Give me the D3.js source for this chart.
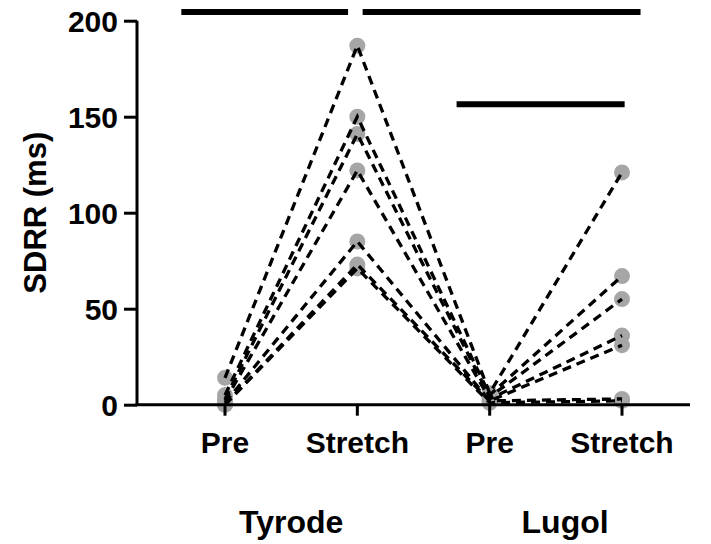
<!DOCTYPE html>
<html>
<head>
<meta charset="utf-8">
<script src="https://cdn.jsdelivr.net/npm/d3@7"></script>
<style>
  html, body { margin: 0; padding: 0; background: #fff; }
  svg { display: block; }
  text { font-family: "Liberation Sans", Arial, sans-serif; font-weight: bold; fill: #000; }
</style>
</head>
<body>
<svg id="chart" width="711" height="544"></svg>
<script>
// Conditions along the x axis and the two solution groups
const categories = ["Pre", "Stretch", "Pre", "Stretch"];
const groups = ["Tyrode", "Lugol"];
const yTicks = [0, 50, 100, 150, 200];

// SDRR (ms) for each heart, one entry per preparation, in the same order in every array
const tyrodePre     = [14, 5, 3, 2, 1, 0, 0];
const tyrodeStretch = [187, 150, 141, 122, 85, 73, 71];
const lugolPre      = [6, 5, 4, 3, 2, 2, 1];
const lugolStretch  = [121, 67, 55, 36, 31, 3, 2];

// Significance bars: start / end in category units and height in ms
const sigFrom  = [-0.33, 1.04, 1.75];
const sigTo    = [0.93, 3.14, 3.02];
const sigLevel = [204.5, 204.5, 156.5];

const svg = d3.select("#chart");

const x = d3.scaleLinear().domain([0, 3]).range([225, 622]);
const y = d3.scaleLinear().domain([0, 200]).range([404.7, 20.7]);

const series = tyrodePre.map((_, i) => [tyrodePre[i], tyrodeStretch[i], lugolPre[i], lugolStretch[i]]);

// Points under the dashed lines
const pts = svg.append("g");
series.forEach(s => {
  pts.selectAll(null).data(s).enter().append("circle")
    .attr("cx", (d, j) => x(j))
    .attr("cy", d => y(d))
    .attr("r", 8)
    .attr("fill", "#a6a6a6");
});

// One dashed line per heart across all four conditions
const line = d3.line().x((d, j) => x(j)).y(d => y(d));
svg.append("g").selectAll("path").data(series).enter().append("path")
  .attr("d", line)
  .attr("fill", "none")
  .attr("stroke", "#000")
  .attr("stroke-width", 3.3)
  .attr("stroke-dasharray", "9,6");

// Y axis
const yAxis = svg.append("g").attr("transform", "translate(137,0)")
  .call(d3.axisLeft(y).tickValues(yTicks).tickSize(13).tickPadding(6).tickFormat(d3.format("d")));
yAxis.select(".domain").attr("stroke-width", 3).attr("d", `M0,${y(200)}V${y(0)}`);
yAxis.selectAll(".tick line").attr("stroke-width", 3);
yAxis.selectAll(".tick text").style("font-size", "30px").attr("dy", "0.36em");

// X axis
const xAxisG = svg.append("g").attr("transform", `translate(0,${y(0)})`);
xAxisG.append("line").attr("x1", 135.5).attr("x2", 690).attr("stroke", "#000").attr("stroke-width", 3);
xAxisG.selectAll(".xt").data(categories).enter().append("line")
  .attr("x1", (d, i) => x(i)).attr("x2", (d, i) => x(i))
  .attr("y1", 0).attr("y2", 11)
  .attr("stroke", "#000").attr("stroke-width", 3);
xAxisG.selectAll(".xl").data(categories).enter().append("text")
  .attr("x", (d, i) => x(i)).attr("y", 48)
  .attr("text-anchor", "middle")
  .style("font-size", "30px")
  .text(d => d);

// Group labels under each pair of conditions (Lugol label sits a little right of its pair)
const groupAt = [0.5, 2.57];
svg.selectAll(".grp").data(groups).enter().append("text")
  .attr("x", (d, i) => x(groupAt[i]))
  .attr("y", 533)
  .attr("text-anchor", "middle")
  .style("font-size", "32px")
  .text(d => d);

// Y axis title
svg.append("text")
  .attr("transform", `translate(46,${(y(0) + y(200)) / 2}) rotate(-90)`)
  .attr("text-anchor", "middle")
  .style("font-size", "31px")
  .text("SDRR (ms)");

// Significance bars
svg.append("g").selectAll("line").data(sigLevel).enter().append("line")
  .attr("x1", (d, i) => x(sigFrom[i]))
  .attr("x2", (d, i) => x(sigTo[i]))
  .attr("y1", d => y(d)).attr("y2", d => y(d))
  .attr("stroke", "#000").attr("stroke-width", 6);
</script>
</body>
</html>
